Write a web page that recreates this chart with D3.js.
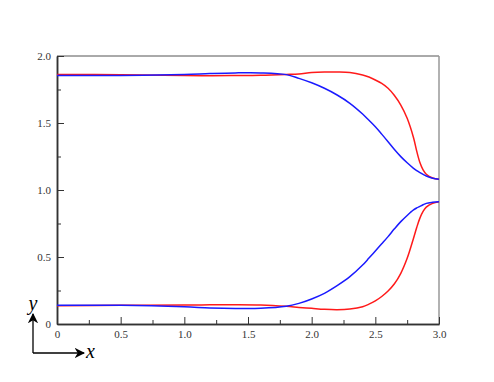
<html>
<head>
<script src="https://d3js.org/d3.v7.min.js"></script>
<style>
  body { margin: 0; background: #fff; }
</style>
</head>
<body>
<div id="chart"></div>
<script>
// sample positions along x
var xs = [0, 0.5, 1.0, 1.2, 1.4, 1.6, 1.8, 1.9, 2.0, 2.1, 2.2, 2.3, 2.4, 2.45, 2.5, 2.55, 2.6, 2.65, 2.7, 2.75, 2.8, 2.825, 2.85, 2.875, 2.9, 2.95, 3.0];
var blueTop = [1.855, 1.855, 1.862, 1.869, 1.874, 1.874, 1.861, 1.833, 1.80, 1.759, 1.709, 1.647, 1.567, 1.52, 1.472, 1.417, 1.36, 1.302, 1.249, 1.203, 1.162, 1.145, 1.13, 1.116, 1.104, 1.088, 1.08];
var redTop = [1.862, 1.86, 1.855, 1.853, 1.854, 1.856, 1.862, 1.866, 1.876, 1.88, 1.88, 1.876, 1.858, 1.843, 1.821, 1.795, 1.759, 1.705, 1.634, 1.535, 1.39, 1.29, 1.205, 1.15, 1.118, 1.09, 1.08];
var redBottom = [0.137, 0.139, 0.141, 0.143, 0.144, 0.142, 0.132, 0.124, 0.117, 0.11, 0.107, 0.112, 0.129, 0.148, 0.172, 0.205, 0.246, 0.30, 0.378, 0.49, 0.64, 0.72, 0.79, 0.84, 0.872, 0.90, 0.913];
var blueBottom = [0.14, 0.139, 0.128, 0.12, 0.116, 0.117, 0.132, 0.154, 0.187, 0.229, 0.286, 0.353, 0.44, 0.492, 0.545, 0.598, 0.652, 0.71, 0.764, 0.81, 0.851, 0.866, 0.878, 0.89, 0.90, 0.908, 0.913];
var xTicks = [0, 0.5, 1.0, 1.5, 2.0, 2.5, 3.0];
var yTicks = [0, 0.5, 1.0, 1.5, 2.0];

var width = 494, height = 382;
var mLeft = 57, mRight = 439, mTop = 56, mBottom = 324;
var serif = "'Liberation Serif', 'Times New Roman', serif";

var svg = d3.select("#chart").append("svg")
    .attr("width", width)
    .attr("height", height);

var x = d3.scaleLinear().domain([0, 3]).range([mLeft, mRight]);
var y = d3.scaleLinear().domain([0, 2]).range([mBottom, mTop]);

// frame (top & right)
svg.append("line").attr("x1", mLeft).attr("x2", mRight).attr("y1", mTop).attr("y2", mTop)
    .attr("stroke", "#555").attr("stroke-width", 1);
svg.append("line").attr("x1", mRight).attr("x2", mRight).attr("y1", mTop).attr("y2", mBottom)
    .attr("stroke", "#999").attr("stroke-width", 1.5);

function fmt(d) { return d === 0 ? "0" : d3.format(".1f")(d); }

// minor ticks
var xMinor = d3.range(0.25, 3, 0.5);
var yMinor = d3.range(0.25, 2, 0.5);

var xAxis = d3.axisBottom(x).tickValues(xTicks).tickFormat(fmt).tickSizeInner(-7).tickSizeOuter(0);
var gx = svg.append("g").attr("transform", "translate(0," + mBottom + ")").call(xAxis);
var xAxisMinor = d3.axisBottom(x).tickValues(xMinor).tickFormat("").tickSizeInner(-4).tickSizeOuter(0);
svg.append("g").attr("transform", "translate(0," + mBottom + ")").call(xAxisMinor);

var yAxis = d3.axisLeft(y).tickValues(yTicks).tickFormat(fmt).tickSizeInner(-7).tickSizeOuter(0);
var gy = svg.append("g").attr("transform", "translate(" + mLeft + ",0)").call(yAxis);
var yAxisMinor = d3.axisLeft(y).tickValues(yMinor).tickFormat("").tickSizeInner(-4).tickSizeOuter(0);
svg.append("g").attr("transform", "translate(" + mLeft + ",0)").call(yAxisMinor);

gx.attr("font-family", serif).attr("font-size", 11);
gy.attr("font-family", serif).attr("font-size", 11);
svg.selectAll(".domain").attr("stroke", "#333").attr("stroke-width", 1.5);
svg.selectAll(".tick line").attr("stroke", "#333");
svg.selectAll(".tick text").attr("fill", "#333");
gy.selectAll(".tick text").attr("x", -6);
gx.selectAll(".tick text").attr("y", 6);

var line = d3.line()
    .x(function(d) { return x(d[0]); })
    .y(function(d) { return y(d[1]); })
    .curve(d3.curveCatmullRom.alpha(0.5));

var series = [
  { vals: redTop, color: "#ff1a1a" },
  { vals: redBottom, color: "#ff1a1a" },
  { vals: blueTop, color: "#1a1aff" },
  { vals: blueBottom, color: "#1a1aff" }
];

svg.selectAll("path.curve")
    .data(series)
    .enter()
    .append("path")
    .attr("class", "curve")
    .attr("fill", "none")
    .attr("stroke", function(d) { return d.color; })
    .attr("stroke-width", 1.5)
    .attr("d", function(d) {
        return line(xs.map(function(v, i) { return [v, d.vals[i]]; }));
    });

// coordinate arrows in the corner
var defs = svg.append("defs");
defs.append("marker").attr("id", "arr")
    .attr("viewBox", "0 0 10 10").attr("refX", 9).attr("refY", 5)
    .attr("markerWidth", 8).attr("markerHeight", 8).attr("orient", "auto")
    .append("path").attr("d", "M0,0 L10,5 L0,10 L3,5 z").attr("fill", "#000");

svg.append("line").attr("x1", 33).attr("y1", 353).attr("x2", 33).attr("y2", 314)
    .attr("stroke", "#000").attr("stroke-width", 1.3).attr("marker-end", "url(#arr)");
svg.append("line").attr("x1", 33).attr("y1", 353).attr("x2", 84).attr("y2", 353)
    .attr("stroke", "#000").attr("stroke-width", 1.3).attr("marker-end", "url(#arr)");

svg.append("text").attr("x", 33).attr("y", 310).attr("text-anchor", "middle")
    .attr("font-family", serif).attr("font-size", 20).attr("font-style", "italic")
    .attr("fill", "#000").text("y");
svg.append("text").attr("x", 86).attr("y", 358)
    .attr("font-family", serif).attr("font-size", 20).attr("font-style", "italic")
    .attr("fill", "#000").text("x");
</script>
</body>
</html>
